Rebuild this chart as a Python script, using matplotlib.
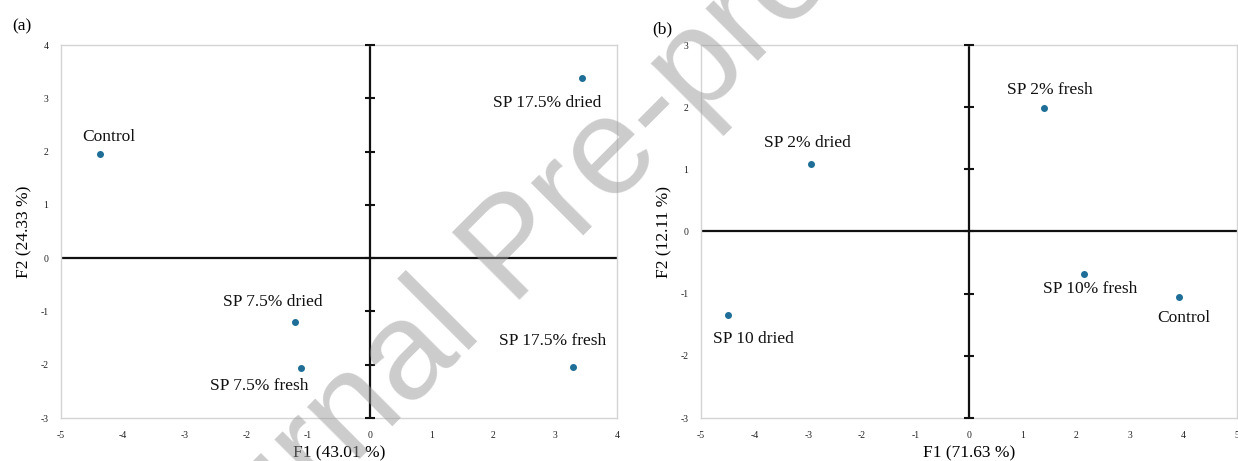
import numpy as np
import matplotlib
matplotlib.use("Agg")
import matplotlib.pyplot as plt

plt.rcParams['font.family'] = ['Liberation Serif', 'DejaVu Serif']
plt.rcParams['axes.unicode_minus'] = False

# panel (a)
a_names = ["Control", "SP 17.5% dried", "SP 17.5% fresh", "SP 7.5% dried", "SP 7.5% fresh"]
a_f1 = [-4.37, 3.43, 3.28, -1.22, -1.12]
a_f2 = [1.96, 3.38, -2.05, -1.19, -2.07]
a_xticks = [-5, -4, -3, -2, -1, 0, 1, 2, 3, 4]
a_yticks = [-3, -2, -1, 0, 1, 2, 3, 4]
a_xlabel = "F1 (43.01 %)"
a_ylabel = "F2 (24.33 %)"

# panel (b)
b_names = ["SP 2% dried", "SP 10 dried", "SP 2% fresh", "SP 10% fresh", "Control"]
b_f1 = [-2.95, -4.50, 1.39, 2.14, 3.92]
b_f2 = [1.09, -1.35, 1.98, -0.69, -1.06]
b_xticks = [-5, -4, -3, -2, -1, 0, 1, 2, 3, 4, 5]
b_yticks = [-3, -2, -1, 0, 1, 2, 3]
b_xlabel = "F1 (71.63 %)"
b_ylabel = "F2 (12.11 %)"

# label offsets from the point, pixels (x right, y up)
a_offs = [(9, 17), (-35, -25), (-20, 26), (-22, 20), (-41, -18)]
b_offs = [(-3, 21), (26, -24), (6, 18), (6, -15), (5, -21)]

W, H = 1238, 461
fig = plt.figure(figsize=(W / 100, H / 100), dpi=100)

def box(l, t, r, b):
    return [l / W, 1 - b / H, (r - l) / W, (b - t) / H]

def panel(ax, names, xs, ys, xticks, yticks, xlab, ylab, offs):
    ax.set_xlim(xticks[0], xticks[-1])
    ax.set_ylim(yticks[0], yticks[-1])
    ax.set_xticks(xticks)
    ax.set_yticks(yticks)
    ax.tick_params(length=0, labelsize=7, pad=9, colors='#222222')
    for s in ax.spines.values():
        s.set_color('#d4d4d4')
        s.set_linewidth(1.0)
    ax.axhline(0, color='#111111', lw=1.6, zorder=2)
    ax.axvline(0, color='#111111', lw=1.6, zorder=2)
    ax.plot(np.zeros(len(yticks)), yticks, ls='none', marker='_', ms=7,
            mew=1.5, color='#111111', clip_on=False, zorder=3)
    ax.scatter(xs, ys, s=16, color='#1f6e97', zorder=4)
    for n, x, y, o in zip(names, xs, ys, offs):
        ax.annotate(n, (x, y), xytext=o, textcoords='offset pixels',
                    ha='center', va='center', fontsize=12.5, color='#111111')
    ax.set_xlabel(xlab, fontsize=12.5, labelpad=4)
    ax.set_ylabel(ylab, fontsize=12.5, labelpad=6)

ax1 = fig.add_axes(box(61, 45, 617, 418))
panel(ax1, a_names, a_f1, a_f2, a_xticks, a_yticks, a_xlabel, a_ylabel, a_offs)
ax2 = fig.add_axes(box(701, 45, 1237, 418))
panel(ax2, b_names, b_f1, b_f2, b_xticks, b_yticks, b_xlabel, b_ylabel, b_offs)

fig.text(22 / W, 1 - 26 / H, "(a)", fontsize=12.5, ha='center', va='center')
fig.text(662 / W, 1 - 29 / H, "(b)", fontsize=12.5, ha='center', va='center')

# watermark
fig.text(516 / W, 1 - 252 / H, "Journal Pre-proof", rotation=45, fontsize=100,
         family='Liberation Sans', color='#9a9a9a', alpha=0.5,
         ha='center', va='center', zorder=10)

fig.savefig("out.png", dpi=100)
